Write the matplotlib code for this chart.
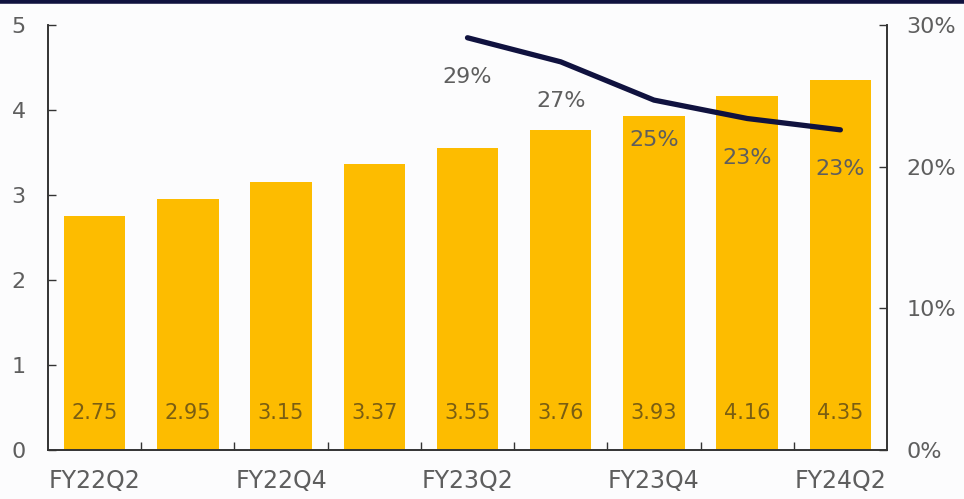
import numpy as np
import matplotlib
matplotlib.use("Agg")
import matplotlib.pyplot as plt
from matplotlib.ticker import FixedLocator, PercentFormatter

# === DATOS ===
quarters = ["FY22Q2", "FY22Q3", "FY22Q4", "FY23Q1", "FY23Q2",
            "FY23Q3", "FY23Q4", "FY24Q1", "FY24Q2"]
revenue = [2.75, 2.95, 3.15, 3.37, 3.55, 3.76, 3.93, 4.16, 4.35]
margin_quarters = ["FY23Q2", "FY23Q3", "FY23Q4", "FY24Q1", "FY24Q2"]
margin_pct = [29.1, 27.4, 24.7, 23.4, 22.6]
shown_ticks = ["FY22Q2", "FY22Q4", "FY23Q2", "FY23Q4", "FY24Q2"]

BAR_COLOR = "#FDBC00"
LINE_COLOR = "#10123F"
TEXT_COLOR = "#5E5E5E"
VALUE_COLOR = "#7A5E12"

fig = plt.figure(figsize=(9.64, 4.99), dpi=100)
fig.patch.set_facecolor("#FCFCFD")
ax = fig.add_axes([0.0498, 0.0982, 0.8703, 0.8517])
ax.set_facecolor("#FCFCFD")

x = np.arange(len(quarters))
ax.bar(x, revenue, width=0.66, color=BAR_COLOR, zorder=2)
for xi, v in zip(x, revenue):
    ax.text(xi, 0.43, f"{v:.2f}", ha="center", va="center",
            fontsize=15, color=VALUE_COLOR, zorder=3)

ax.set_xlim(-0.5, len(quarters) - 0.5)
ax.set_ylim(0, 5)
ax.set_yticks([0, 1, 2, 3, 4, 5])
ax.xaxis.set_major_locator(FixedLocator([quarters.index(q) for q in shown_ticks]))
ax.set_xticklabels(shown_ticks)
ax.xaxis.set_minor_locator(FixedLocator(np.arange(0.5, len(quarters) - 1, 1.0)))
ax.tick_params(axis="x", which="major", length=0, pad=14,
               labelsize=17, labelcolor=TEXT_COLOR)
ax.tick_params(axis="x", which="minor", direction="in", length=6,
               width=1, color="#333333")
ax.tick_params(axis="y", direction="in", length=6, width=1, color="#333333",
               pad=16, labelsize=16, labelcolor=TEXT_COLOR)
for side in ["left", "bottom", "right"]:
    ax.spines[side].set_color("#333333")
    ax.spines[side].set_linewidth(1.2)
ax.spines["top"].set_visible(False)

# Margen en el eje secundario
ax2 = ax.twinx()
xm = [quarters.index(q) for q in margin_quarters]
ax2.plot(xm, margin_pct, color=LINE_COLOR, linewidth=3.8,
         solid_capstyle="round", zorder=4)
for xi, v in zip(xm, margin_pct):
    ax2.text(xi, v - 2.8, f"{v:.0f}%", ha="center", va="center",
             fontsize=16, color=TEXT_COLOR, zorder=5)
ax2.set_ylim(0, 30)
ax2.set_yticks([0, 10, 20, 30])
ax2.yaxis.set_major_formatter(PercentFormatter(decimals=0))
ax2.tick_params(axis="y", direction="in", length=6, width=1, color="#333333",
                pad=14, labelsize=16, labelcolor=TEXT_COLOR)
for side in ["left", "bottom", "right"]:
    ax2.spines[side].set_color("#333333")
    ax2.spines[side].set_linewidth(1.2)
ax2.spines["top"].set_visible(False)

# Banda oscura superior
fig.add_artist(plt.Line2D([0, 1], [0.997, 0.997], color=LINE_COLOR,
                          linewidth=4, transform=fig.transFigure))

fig.savefig("out.png", dpi=100, facecolor=fig.get_facecolor())
